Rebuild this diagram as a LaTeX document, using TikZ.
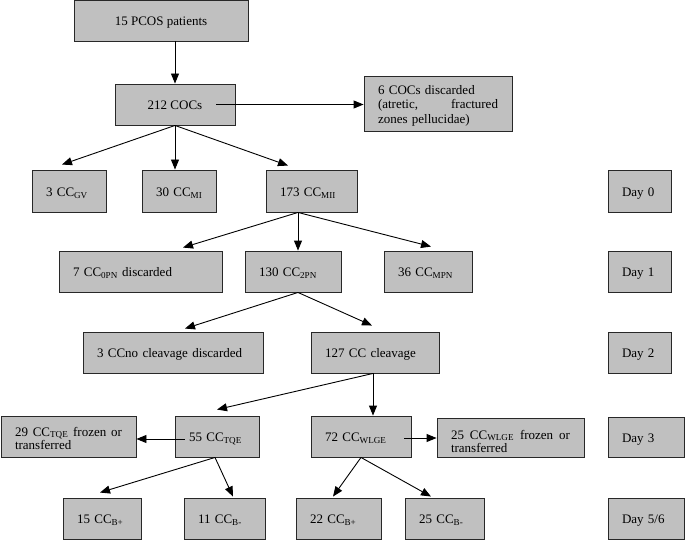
\documentclass[tikz,border=0pt]{standalone}
\usepackage{fontspec}
\setmainfont{Liberation Serif}
\usetikzlibrary{arrows.meta}
\definecolor{boxgray}{RGB}{192,192,192}
\definecolor{boxline}{RGB}{40,40,40}
\newcommand{\subs}[1]{\textsubscript{#1}}
\begin{document}
\begin{tikzpicture}[x=1pt,y=-1pt,
  box/.style={draw=boxline, fill=boxgray, line width=0.9pt, inner sep=0pt,
    text height=10.6pt, text depth=0pt, font=\fontsize{13}{14}\selectfont},
  cbox/.style 2 args={box, minimum width=#1, minimum height=#2, align=center},
  lbox/.style 2 args={box, minimum width=#1, minimum height=#2, inner xsep=14pt, align=left},
  arr/.style={line width=0.9pt, draw=black, -{Triangle[length=10pt,width=8pt]}}]
\useasboundingbox (0,0) rectangle (685,540);

% top
\node[cbox={174pt}{41pt}] (pcos) at (161,20.5) {15 PCOS patients};
\node[cbox={120pt}{41pt}] (cocs) at (175,104.5) {212 COCs};
\node[lbox={148pt}{55pt}, text width=120pt, text height=4pt, text depth=22.4pt,
  font=\fontsize{13}{14.5}\selectfont] (disc) at (438,103.5)
  {6 COCs discarded\\(atretic,\hfill fractured\\zones pellucidae)};

% Day 0
\node[lbox={74pt}{42pt}, text width=46pt] (gv) at (69,191) {3~CC\subs{GV}};
\node[lbox={74pt}{42pt}, text width=46pt] (mi) at (179,191) {30~CC\subs{MI}};
\node[lbox={91pt}{42pt}, text width=63pt] (mii) at (311.5,191) {173~CC\subs{MII}};
\node[lbox={63pt}{42pt}, text width=35pt] (day0) at (639.5,191) {Day~0};

% Day 1
\node[lbox={163pt}{41pt}, text width=135pt] (zero) at (140.5,271.5) {7~CC\subs{0PN}~discarded};
\node[lbox={96pt}{41pt}, text width=68pt] (two) at (293,271.5) {130~CC\subs{2PN}};
\node[lbox={88pt}{41pt}, text width=60pt] (mpn) at (428,271.5) {36~CC\subs{MPN}};
\node[lbox={63pt}{41pt}, text width=35pt] (day1) at (639.5,271.5) {Day~1};

% Day 2
\node[lbox={180pt}{41pt}, text width=152pt] (nocl) at (173,352.5) {3~CCno~cleavage~discarded};
\node[lbox={128pt}{41pt}, text width=100pt] (cl) at (375,352.5) {127~CC~cleavage};
\node[lbox={63pt}{41pt}, text width=35pt] (day2) at (639.5,352.5) {Day~2};

% Day 3
\node[lbox={135pt}{41pt}, text width=107pt, text height=5pt, text depth=6pt,
  font=\fontsize{13}{12.5}\selectfont] (tqef) at (68.5,436.5)
  {29\hfill CC\subs{TQE}\hfill frozen\hfill or\\transferred};
\node[lbox={84pt}{41pt}, text width=56pt] (tqe) at (217,436.5) {55~CC\subs{TQE}};
\node[lbox={100pt}{41pt}, text width=72pt] (wlge) at (361,436.5) {72~CC\subs{WLGE}};
\node[lbox={147pt}{39pt}, text width=119pt, text height=6pt, text depth=3pt,
  font=\fontsize{13}{13.5}\selectfont] (wlgef) at (510.5,437.5)
  {25\hfill CC\subs{WLGE}\hfill frozen\hfill or\\transferred};
\node[lbox={76pt}{40pt}, text width=48pt] (day3) at (646,437) {Day~3};

% Day 5/6
\node[lbox={78pt}{41pt}, text width=50pt] (bp1) at (102,518.5) {15~CC\subs{B+}};
\node[lbox={81pt}{41pt}, text width=53pt] (bm1) at (224.5,518.5) {11~CC\subs{B-}};
\node[lbox={85pt}{41pt}, text width=57pt] (bp2) at (338.5,518.5) {22~CC\subs{B+}};
\node[lbox={79pt}{41pt}, text width=51pt] (bm2) at (444.5,518.5) {25~CC\subs{B-}};
\node[lbox={76pt}{41pt}, text width=48pt] (day56) at (646,518.5) {Day~5/6};

% connectors
\draw[arr] (pcos.south -| cocs.north) -- (cocs.north);
\coordinate (cx) at ([shift={(41,0)}]cocs.center);
\draw[arr] (cx) -- (cx -| disc.west);
\draw[arr] (cocs.south) -- ([shift={(-7,-5)}]gv.north);
\draw[arr] (cocs.south) -- (cocs.south |- mi.north);
\draw[arr] (cocs.south) -- ([shift={(-23.5,-4)}]mii.north);

\coordinate (m) at ([shift={(-13.5,0)}]mii.south);
\draw[arr] (m) -- ([shift={(42.5,-3)}]zero.north);
\draw[arr] (m) -- (m |- two.north);
\draw[arr] (m) -- ([shift={(3,-4)}]mpn.north);

\coordinate (t) at ([shift={(5,0)}]two.south);
\draw[arr] (t) -- ([shift={(12,-3)}]nocl.north);
\draw[arr] (t) -- ([shift={(-3,-6)}]cl.north);

\coordinate (c) at ([shift={(-2,0)}]cl.south);
\draw[arr] (c) -- ([shift={(0,-6)}]tqe.north);
\draw[arr] (c) -- (c |- wlge.north);

\coordinate (tw) at ([shift={(10,2.5)}]tqe.west);
\draw[arr] (tw) -- (tw -| tqef.east);
\coordinate (we) at ([shift={(-7,1.5)}]wlge.east);
\draw[arr] (we) -- (we -| wlgef.west);

\coordinate (q) at ([shift={(-2,0)}]tqe.south);
\draw[arr] (q) -- ([shift={(-2,-5)}]bp1.north);
\draw[arr] (q) -- ([shift={(8.5,-1)}]bm1.north);
\draw[arr] (wlge.south) -- ([shift={(-5.5,-1)}]bp2.north);
\draw[arr] (wlge.south) -- ([shift={(-13.5,-1)}]bm2.north);
\end{tikzpicture}
\end{document}
